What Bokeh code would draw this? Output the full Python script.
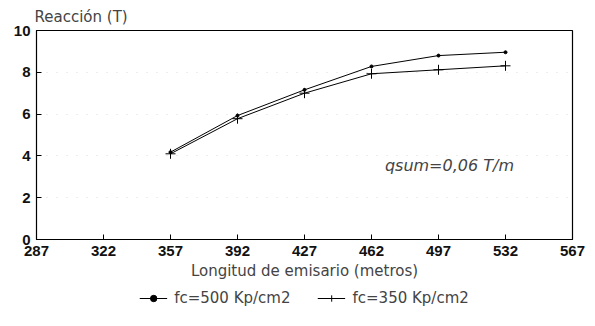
from bokeh.plotting import figure
from bokeh.models import Range1d, FixedTicker, Legend, LegendItem, Label
from bokeh.layouts import column
from bokeh.embed import file_html
from bokeh.resources import INLINE

longitud = [357, 392, 427, 462, 497, 532]
fc500 = [4.18, 5.93, 7.16, 8.28, 8.8, 8.96]
fc350 = [4.10, 5.78, 7.0, 7.93, 8.12, 8.31]
x_ticks = [287, 322, 357, 392, 427, 462, 497, 532, 567]
y_ticks = [0, 2, 4, 6, 8, 10]
series_names = ["fc=500 Kp/cm2", "fc=350 Kp/cm2"]

FONT = "DejaVu Sans"

p = figure(width=595, height=285, output_backend="svg", toolbar_location=None,
           x_range=Range1d(287, 567), y_range=Range1d(0, 10),
           min_border_left=36, min_border_right=23, min_border_top=29,
           min_border_bottom=46)

p.title.text = "Reacción (T)"
p.title.text_font = FONT
p.title.text_font_size = "15px"
p.title.text_font_style = "normal"
p.title.offset = -2

p.outline_line_color = "black"
p.outline_line_width = 1.2
p.background_fill_color = "white"

p.xgrid.visible = False
p.ygrid.grid_line_color = "#bbbbbb"
p.ygrid.grid_line_dash = "1 9"
p.ygrid.grid_line_alpha = 0.5

for ax in (p.xaxis[0], p.yaxis[0]):
    ax.major_tick_in = 5
    ax.major_tick_out = 0
    ax.minor_tick_in = 0
    ax.minor_tick_out = 0
    ax.axis_line_color = "black"
    ax.major_tick_line_color = "black"
    ax.major_label_text_font = "Liberation Sans"
    ax.major_label_text_font_size = "15px"
    ax.major_label_text_font_style = "bold"
    ax.major_label_text_color = "#111111"

p.xaxis.ticker = FixedTicker(ticks=x_ticks)
p.yaxis.ticker = FixedTicker(ticks=y_ticks)
p.xaxis.major_label_standoff = 6
p.yaxis.major_label_standoff = 6
p.xaxis.axis_label = "Longitud de emisario (metros)"
p.xaxis.axis_label_text_font = FONT
p.xaxis.axis_label_text_font_size = "15px"
p.xaxis.axis_label_text_font_style = "normal"
p.xaxis.axis_label_standoff = 3

p.line(longitud, fc500, line_color="black", line_width=1)
p.scatter(longitud, fc500, marker="circle", size=3, color="black")
p.line(longitud, fc350, line_color="black", line_width=1)
p.scatter(longitud, fc350, marker="cross", size=10, line_color="black", line_width=1)

p.add_layout(Label(x=469, y=3.55, text="qsum=0,06 T/m", text_font=FONT,
                   text_font_size="16px", text_font_style="italic",
                   text_align="left", text_baseline="middle"))

# legend strip: a separate figure so the legend is not clipped; its series
# lie outside this strip's ranges, so only the legend entries are visible
q = figure(width=595, height=41, output_backend="svg", toolbar_location=None,
           x_range=Range1d(0, 1), y_range=Range1d(0, 1), min_border=0)
q.axis.visible = False
q.grid.visible = False
q.outline_line_color = None
ql1 = q.line(longitud, fc500, line_color="black", line_width=1)
qm1 = q.scatter(longitud, fc500, marker="circle", size=3, color="black")
ql2 = q.line(longitud, fc350, line_color="black", line_width=1)
qm2 = q.scatter(longitud, fc350, marker="cross", size=10, line_color="black", line_width=1)

legend = Legend(items=[LegendItem(label=series_names[0], renderers=[ql1, qm1]),
                       LegendItem(label=series_names[1], renderers=[ql2, qm2])],
                orientation="horizontal", location="top_center",
                border_line_color=None, background_fill_alpha=0,
                label_text_font=FONT, label_text_font_size="15px",
                glyph_width=28, glyph_height=16, spacing=27, padding=0,
                label_standoff=7, margin=4)
q.add_layout(legend, "center")

layout = column(p, q, spacing=0)
open("out.html", "w").write(file_html(layout, INLINE))
